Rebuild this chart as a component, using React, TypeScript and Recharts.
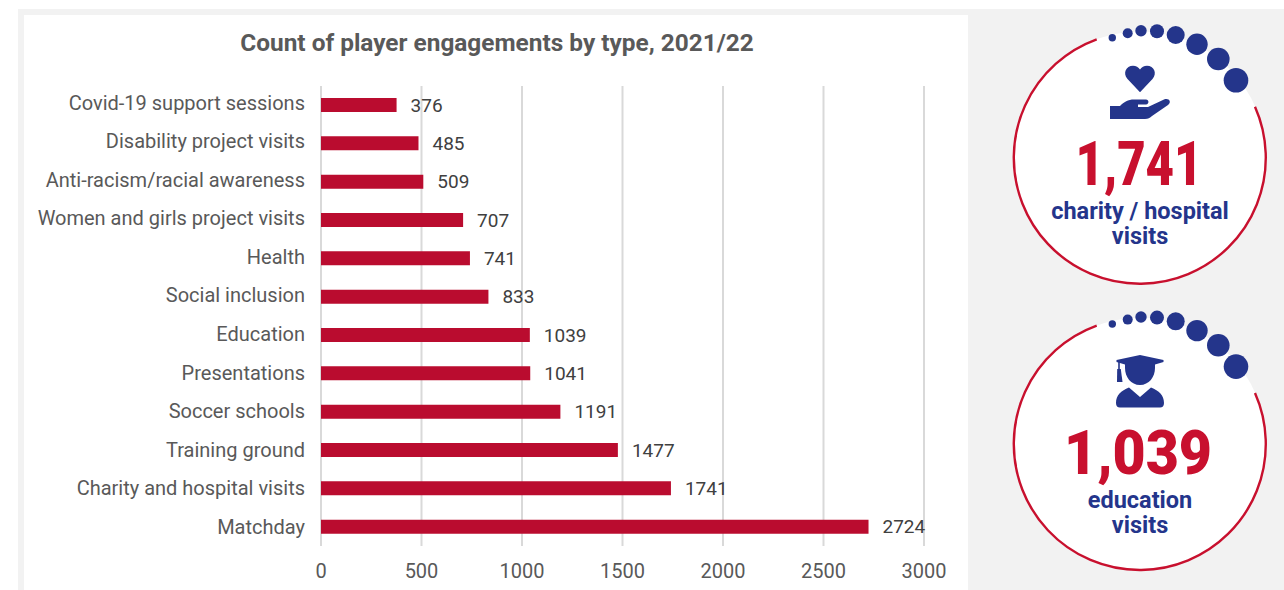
import React from "react";
import { BarChart, Bar, XAxis, YAxis, CartesianGrid, LabelList } from "recharts";

const categories = ["Covid-19 support sessions","Disability project visits","Anti-racism/racial awareness","Women and girls project visits","Health","Social inclusion","Education","Presentations","Soccer schools","Training ground","Charity and hospital visits","Matchday"];
const values = [376,485,509,707,741,833,1039,1041,1191,1477,1741,2724];
const xTicks = [0,500,1000,1500,2000,2500,3000];
const rows = categories.map((name, i) => ({ name, value: values[i] }));
const dots: [number, number, number][] = [[1112.3,37.7,3.7],[1127.7,33.3,5],[1141,30.7,5.7],[1157,31.3,7],[1175.7,35,9],[1197,44.3,10.7],[1218.3,59,11.3],[1236,80.3,12.3]];

const FONT = "Roboto, sans-serif";
const RED = "#c8102e";
const BLUE = "#24358b";

function CategoryTick({ x, y, index, payload }: any) {
  const shift = -0.25 * (categories.length - 1 - index);
  return (
    <text x={x} y={y + shift} dy="0.355em" textAnchor="end" fontFamily={FONT} fontSize={20} fill="#595959">{payload.value}</text>
  );
}

function Heart() {
  return (
    <g fill={BLUE}>
      <path d="M1140 92.3 L1127.5 79 C1122.5 73 1126 65.7 1133 65.7 C1136 65.7 1138.5 67.2 1140 69.5 C1141.5 67.2 1144 65.7 1147 65.7 C1154 65.7 1157.5 73 1152.5 79 Z" />
      <path d="M1110 106 H1120 C1124 102 1128 99.5 1134 99.5 H1146 C1149 99.5 1149.5 104 1146 104.5 H1138 V107 H1148 L1164 99.5 C1169 97.5 1172 102 1168 105 L1152 116 C1150 118 1148 119 1145 119 H1110 Z" />
    </g>
  );
}

function Cap() {
  return (
    <g fill={BLUE} transform="translate(0,295)">
      <path d="M1116.5 65 L1140 60 L1163.5 65 L1163.5 67 L1155 69.5 V73 C1155 82 1149 90 1140 90 C1131 90 1125 82 1125 73 V69.5 L1116.5 67 Z" />
      <rect x={1118.2} y={66} width={1.6} height={9} />
      <path d="M1117.2 74 H1120.8 L1122.5 87 H1117 Z" />
      <path d="M1116 108 C1116 100 1121 96 1129 92.5 L1140 102 L1151 92.5 C1159 96 1164 100 1164 108 C1164 111 1162.5 112.5 1160 112.5 H1120 C1117.5 112.5 1116 111 1116 108 Z" />
    </g>
  );
}

function Badge({ dy, value, lines, valueBase, valueX, lineBase, valueWidth }: { dy: number; value: string; lines: string[]; valueBase: number; valueX: number; lineBase: number; valueWidth: number }) {
  return (
    <g>
      <circle cx={1140} cy={157.5 + dy} r={126} fill="#fff" />
      <path d={`M1096.7 ${39.3 + dy} A126 126 0 1 0 1255 ${106.7 + dy}`} fill="none" stroke={RED} strokeWidth={2.4} />
      {dots.map((d, i) => <circle key={i} cx={d[0]} cy={d[1] + dy} r={d[2]} fill={BLUE} />)}
      <text x={valueX} y={valueBase} textAnchor="middle" fontFamily={FONT} fontWeight={900} fontSize={62} fill={RED} textLength={valueWidth} lengthAdjust="spacingAndGlyphs">{value}</text>
      <text textAnchor="middle" fontFamily={FONT} fontWeight={700} fontSize={23.5} fill={BLUE}>
        {lines.map((l, i) => (
          <tspan key={l} x={1140} y={lineBase + i * 25}>{l}</tspan>
        ))}
      </text>
    </g>
  );
}

export default function App() {
  return (
    <div style={{ position: "absolute", left: 0, top: 0, width: 1284, height: 590, overflow: "hidden", background: "#fff" }}>
      <div style={{ position: "absolute", left: 18, top: 9, width: 1266, height: 581, background: "#f2f2f2" }} />
      <div style={{ position: "absolute", left: 24, top: 15, width: 944, height: 575, background: "#fff" }} />
      <div style={{ position: "absolute", left: 0, top: 0 }}>
        <BarChart width={968} height={590} data={rows} layout="vertical" margin={{ top: 86, right: 44, bottom: 0, left: 0 }}>
          <text x={497} y={51} textAnchor="middle" fontFamily={FONT} fontWeight={700} fontSize={24.4} fill="#595959">Count of player engagements by type, 2021/22</text>
          <CartesianGrid horizontal={false} stroke="#d9d9d9" strokeWidth={2} />
          <XAxis type="number" domain={[0, 3000]} ticks={xTicks} axisLine={false} tickLine={false} height={44} tickMargin={12} tick={{ fontFamily: FONT, fontSize: 20, fill: "#595959" }} interval={0} />
          <YAxis type="category" dataKey="name" width={321} axisLine={false} tickLine={false} tickMargin={10} interval={0} tick={<CategoryTick />} />
          <Bar dataKey="value" fill="#ba0c2f" barSize={14} isAnimationActive={false}>
            <LabelList dataKey="value" position="right" offset={14} style={{ fontFamily: FONT, fontSize: 19, fill: "#404040" }} />
          </Bar>
        </BarChart>
      </div>
      <svg width={1284} height={590} style={{ position: "absolute", left: 0, top: 0 }}>
        <Badge dy={0} value="1,741" lines={["charity / hospital", "visits"]} valueBase={185} valueX={1139} lineBase={219} valueWidth={127} />
        <Heart />
        <Badge dy={286.3} value="1,039" lines={["education", "visits"]} valueBase={474} valueX={1138} lineBase={508} valueWidth={148} />
        <Cap />
      </svg>
    </div>
  );
}
